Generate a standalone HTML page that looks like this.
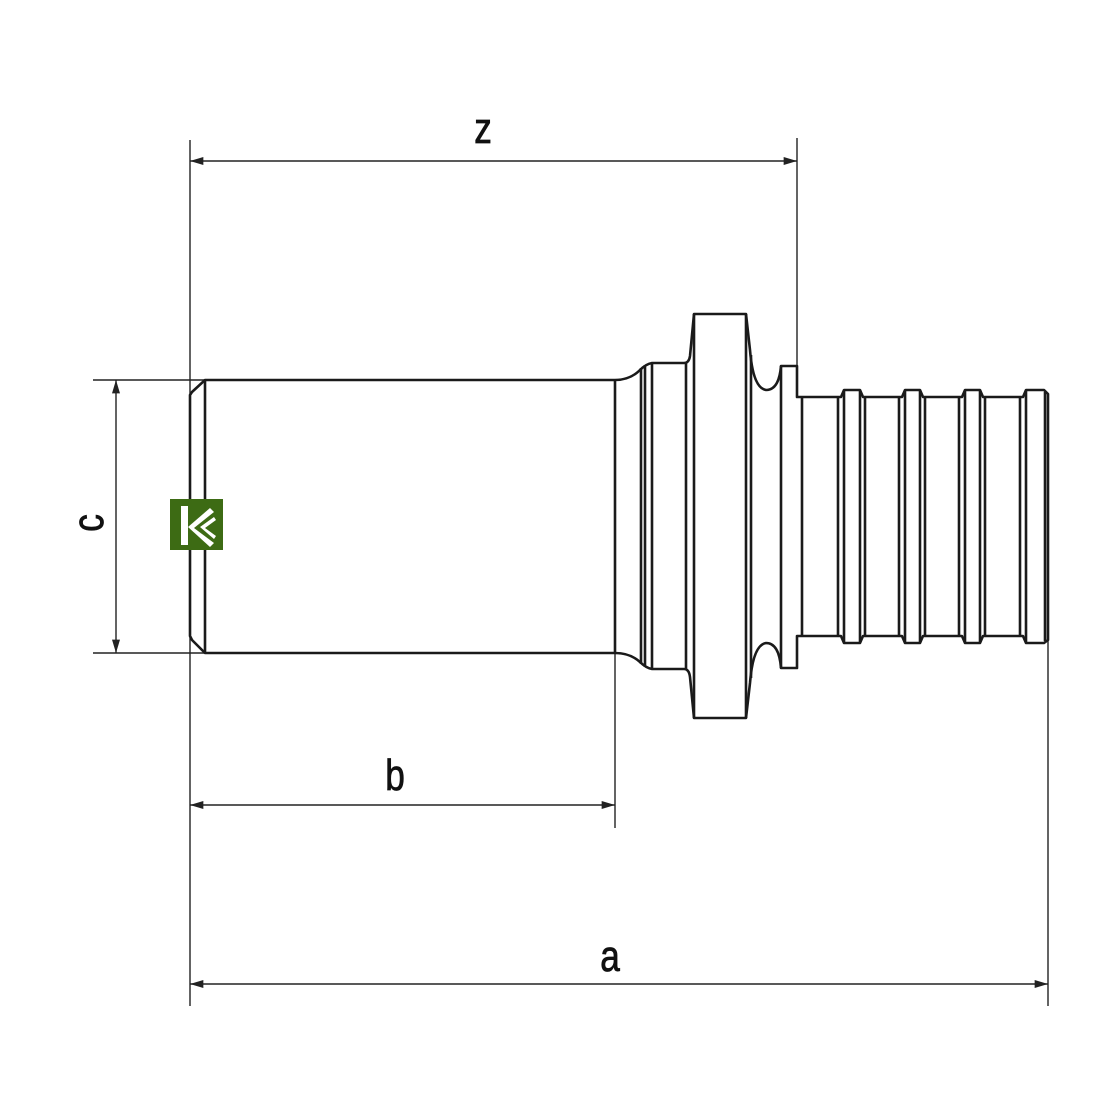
<!DOCTYPE html>
<html><head><meta charset="utf-8"><style>html,body{margin:0;padding:0;background:#fff}svg{display:block}</style></head>
<body>
<svg width="1100" height="1100" viewBox="0 0 1100 1100" xmlns="http://www.w3.org/2000/svg">
<defs>
<marker id="ar" viewBox="0 0 10 6" refX="10" refY="3" markerWidth="18" markerHeight="8" markerUnits="userSpaceOnUse" orient="auto-start-reverse">
<path d="M0,0 L10,3 L0,6 Z" fill="#222"/>
</marker>
</defs>
<g stroke="#222" stroke-width="1.4" fill="none">
<line x1="190" y1="140" x2="190" y2="1006"/>
<line x1="797" y1="138" x2="797" y2="366"/>
<line x1="615" y1="653" x2="615" y2="828"/>
<line x1="1048" y1="640" x2="1048" y2="1006"/>
<line x1="93" y1="380" x2="205" y2="380"/>
<line x1="93" y1="653" x2="205" y2="653"/>
<line x1="190" y1="161" x2="797" y2="161" marker-start="url(#ar)" marker-end="url(#ar)"/>
<line x1="190" y1="805" x2="615" y2="805" marker-start="url(#ar)" marker-end="url(#ar)"/>
<line x1="190" y1="984" x2="1048" y2="984" marker-start="url(#ar)" marker-end="url(#ar)"/>
<line x1="116" y1="380" x2="116" y2="653" marker-start="url(#ar)" marker-end="url(#ar)"/>
</g>
<g stroke="#1a1a1a" stroke-width="2.6" fill="none" stroke-linejoin="round">
<path d="M205,380 L615,380 Q630,380 640,370 Q646,364 652,363 L684,363 Q689,363 690,356 L694,314 L746,314 L750,350 Q753,388 766,390 Q779,390 781,366 L797,366 L797,397 L841,397 L844,390 L860,390 L863,397 L902,397 L905,390 L920,390 L923,397 L962,397 L965,390 L980,390 L983,397 L1023,397 L1026,390 L1044,390 L1048,394 L1048,640 L1044,643 L1026,643 L1023,636 L983,636 L980,643 L965,643 L962,636 L923,636 L920,643 L905,643 L902,636 L863,636 L860,643 L844,643 L841,636 L797,636 L797,668 L781,668 Q779,643 766,643 Q753,645 750,683 L746,718 L694,718 L690,677 Q689,669 684,669 L652,669 Q646,668 640,662 Q630,653 615,653 L205,653 L192,640 L190,636 L190,395 L192,392 Z"/>
<line x1="205" y1="380" x2="205" y2="653"/>
<line x1="615" y1="380" x2="615" y2="653"/>
<line x1="641" y1="368" x2="641" y2="664"/>
<line x1="645" y1="365" x2="645" y2="667"/>
<line x1="652" y1="363" x2="652" y2="669"/>
<line x1="686" y1="363" x2="686" y2="669"/>
<line x1="694" y1="314" x2="694" y2="718"/>
<line x1="746" y1="314" x2="746" y2="718"/>
<line x1="751" y1="355" x2="751" y2="678"/>
<line x1="781" y1="366" x2="781" y2="668"/>
<line x1="802" y1="397" x2="802" y2="636"/>
<line x1="838" y1="397" x2="838" y2="636"/>
<line x1="844" y1="390" x2="844" y2="643"/>
<line x1="860" y1="390" x2="860" y2="643"/>
<line x1="865" y1="397" x2="865" y2="636"/>
<line x1="899" y1="397" x2="899" y2="636"/>
<line x1="905" y1="390" x2="905" y2="643"/>
<line x1="920" y1="390" x2="920" y2="643"/>
<line x1="925" y1="397" x2="925" y2="636"/>
<line x1="959" y1="397" x2="959" y2="636"/>
<line x1="965" y1="390" x2="965" y2="643"/>
<line x1="980" y1="390" x2="980" y2="643"/>
<line x1="985" y1="397" x2="985" y2="636"/>
<line x1="1020" y1="397" x2="1020" y2="636"/>
<line x1="1026" y1="390" x2="1026" y2="643"/>
<line x1="1045" y1="392" x2="1045" y2="641"/>
</g>
<rect x="170" y="499" width="53" height="51" fill="#3d6b14"/>
<rect x="181" y="506" width="7" height="39" fill="#fff"/>
<path d="M188,527 L210,508 L214,512 L194,528 L214,543 L210,547 Z" fill="#fff"/>
<path d="M200,527 L214,517 L216,520 L205,528 L216,536 L214,539 Z" fill="#fff"/>
<g font-family="Liberation Sans, sans-serif" fill="#111" font-size="44" stroke="#111" stroke-width="0.8">
<text x="483" y="143" text-anchor="middle" transform="translate(483 0) scale(0.8 1) translate(-483 0)">z</text>
<text x="395" y="790" text-anchor="middle" transform="translate(395 0) scale(0.8 1) translate(-395 0)">b</text>
<text x="610" y="971" text-anchor="middle" transform="translate(610 0) scale(0.8 1) translate(-610 0)">a</text>
<text x="0" y="0" text-anchor="middle" transform="translate(103 523) rotate(-90) scale(0.8 1)">c</text>
</g>
</svg>
</body></html>
